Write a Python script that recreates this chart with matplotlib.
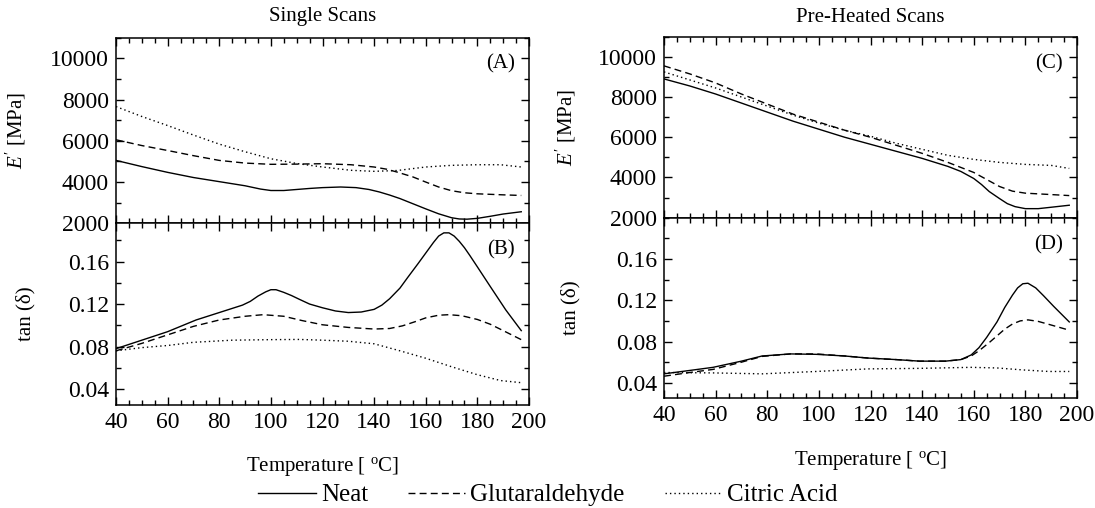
import matplotlib
matplotlib.use("Agg")
import matplotlib.pyplot as plt
from matplotlib.ticker import MultipleLocator
from matplotlib.lines import Line2D

plt.rcParams['font.family'] = ['Liberation Serif', 'DejaVu Serif']
plt.rcParams['mathtext.fontset'] = 'custom'
plt.rcParams['mathtext.rm'] = 'Liberation Serif'
plt.rcParams['mathtext.it'] = 'Liberation Serif:italic'

# ---------------- data ----------------
series_names = ["Neat", "Glutaraldehyde", "Citric Acid"]

# Panel A: single scans, storage modulus E' [MPa]
a_neat_t = [40, 50, 60, 70, 80, 90, 96, 100, 105, 110, 115, 120, 127, 133, 138, 142, 146, 150, 155, 160, 165, 170, 173, 176, 180, 185, 190, 197]
a_neat_v = [5050, 4750, 4470, 4220, 4020, 3820, 3660, 3590, 3590, 3640, 3690, 3730, 3760, 3730, 3640, 3520, 3370, 3200, 2950, 2700, 2460, 2270, 2210, 2200, 2240, 2340, 2450, 2560]
a_glut_t = [40, 50, 60, 70, 80, 90, 100, 110, 120, 131, 140, 145, 149, 155, 160, 165, 170, 175, 180, 190, 197]
a_glut_v = [6050, 5770, 5530, 5280, 5050, 4920, 4860, 4870, 4890, 4840, 4730, 4620, 4480, 4250, 4000, 3760, 3580, 3480, 3430, 3380, 3350]
a_citr_t = [40, 50, 60, 70, 80, 90, 100, 110, 120, 131, 140, 149, 160, 170, 180, 189, 197]
a_citr_v = [7660, 7180, 6740, 6280, 5840, 5470, 5130, 4900, 4730, 4570, 4520, 4560, 4730, 4810, 4840, 4840, 4730]

# Panel B: single scans, tan(delta)
b_neat_t = [40, 50, 60, 71, 80, 89, 92, 95, 98, 100, 102, 105, 108, 111, 115, 120, 125, 130, 135, 140, 143, 146, 150, 153, 157, 160, 163, 165, 167, 169, 171, 173, 175, 177, 180, 185, 191, 197]
b_neat_v = [0.078, 0.086, 0.094, 0.105, 0.112, 0.119, 0.1225, 0.1275, 0.1315, 0.1335, 0.1335, 0.131, 0.128, 0.1245, 0.120, 0.1165, 0.1135, 0.112, 0.1125, 0.115, 0.119, 0.125, 0.135, 0.145, 0.158, 0.168, 0.178, 0.184, 0.187, 0.187, 0.184, 0.179, 0.173, 0.166, 0.155, 0.1365, 0.1145, 0.095]
b_glut_t = [40, 50, 60, 70, 80, 90, 97, 105, 112, 120, 130, 140, 146, 151, 156, 160, 165, 169, 174, 180, 185, 190, 197]
b_glut_v = [0.076, 0.083, 0.091, 0.099, 0.105, 0.1085, 0.110, 0.1085, 0.1045, 0.1005, 0.098, 0.0965, 0.097, 0.0995, 0.1035, 0.107, 0.1095, 0.110, 0.109, 0.1055, 0.101, 0.095, 0.0865]
b_citr_t = [40, 50, 60, 70, 85, 100, 111, 120, 130, 140, 150, 160, 170, 180, 189, 197]
b_citr_v = [0.076, 0.079, 0.081, 0.084, 0.086, 0.0865, 0.0867, 0.086, 0.085, 0.0826, 0.076, 0.069, 0.061, 0.0535, 0.048, 0.046]

# Panel C: pre-heated scans, storage modulus E' [MPa]
c_neat_t = [40, 50, 60, 70, 80, 90, 100, 110, 120, 130, 140, 150, 155, 160, 163, 166, 170, 173, 176, 180, 185, 190, 197]
c_neat_v = [8900, 8550, 8150, 7700, 7250, 6800, 6400, 6000, 5650, 5300, 4950, 4550, 4300, 3950, 3650, 3300, 2950, 2700, 2550, 2450, 2450, 2520, 2620]
c_glut_t = [40, 50, 60, 70, 80, 90, 100, 110, 120, 130, 140, 150, 160, 165, 170, 175, 180, 190, 197]
c_glut_v = [9550, 9150, 8700, 8150, 7650, 7150, 6750, 6350, 6000, 5600, 5200, 4750, 4250, 3900, 3550, 3320, 3220, 3150, 3100]
c_citr_t = [40, 50, 60, 70, 80, 90, 100, 110, 120, 130, 140, 150, 160, 170, 180, 190, 197]
c_citr_v = [9250, 8850, 8450, 8000, 7550, 7100, 6700, 6350, 6050, 5700, 5400, 5100, 4900, 4750, 4650, 4600, 4450]

# Panel D: pre-heated scans, tan(delta)
d_neat_t = [40, 50, 59, 70, 78, 89, 99, 110, 119, 130, 139, 149, 155, 159, 162, 165, 169, 172, 175, 177, 179, 181, 184, 187, 191, 197]
d_neat_v = [0.0487, 0.052, 0.055, 0.061, 0.066, 0.068, 0.0676, 0.066, 0.064, 0.0625, 0.061, 0.061, 0.0625, 0.067, 0.074, 0.084, 0.099, 0.113, 0.125, 0.132, 0.136, 0.1365, 0.132, 0.1245, 0.114, 0.099]
d_glut_t = [40, 50, 59, 70, 78, 89, 99, 110, 119, 130, 139, 149, 155, 159, 162, 166, 169, 172, 175, 178, 181, 185, 190, 197]
d_glut_v = [0.0464, 0.050, 0.053, 0.060, 0.0656, 0.068, 0.068, 0.066, 0.064, 0.0625, 0.061, 0.061, 0.0625, 0.066, 0.071, 0.079, 0.0855, 0.092, 0.097, 0.100, 0.101, 0.0995, 0.096, 0.091]
d_citr_t = [40, 59, 78, 99, 119, 139, 159, 169, 179, 189, 197]
d_citr_v = [0.050, 0.0496, 0.0487, 0.051, 0.0535, 0.054, 0.055, 0.0544, 0.0525, 0.051, 0.051]

titles = ["Single Scans", "Pre-Heated Scans"]
panel_labels = ["(A)", "(B)", "(C)", "(D)"]
xticks = [40, 60, 80, 100, 120, 140, 160, 180, 200]
e_ticks = [2000, 4000, 6000, 8000, 10000]
tan_ticks = [0.04, 0.08, 0.12, 0.16]

# ---------------- figure ----------------
W, H = 1095, 508
fig = plt.figure(figsize=(W / 100, H / 100), dpi=100)

def px_axes(x0, x1, ytop, ybot):
    return fig.add_axes([x0 / W, 1 - ybot / H, (x1 - x0) / W, (ybot - ytop) / H])

axA = px_axes(116, 529, 37.7, 223.3)
axB = px_axes(116, 529, 223.3, 405)
axC = px_axes(664, 1077, 36.7, 217.7)
axD = px_axes(664, 1077, 217.7, 398.3)

styles = [dict(ls='-'), dict(ls=(0, (5, 3))), dict(ls=(0, (1, 2.2)))]
lw = 1.0

def draw(ax, data):
    for (t, v), st in zip(data, styles):
        ax.plot(t, v, color='black', lw=lw, **st)

draw(axA, [(a_neat_t, a_neat_v), (a_glut_t, a_glut_v), (a_citr_t, a_citr_v)])
draw(axB, [(b_neat_t, b_neat_v), (b_glut_t, b_glut_v), (b_citr_t, b_citr_v)])
draw(axC, [(c_neat_t, c_neat_v), (c_glut_t, c_glut_v), (c_citr_t, c_citr_v)])
draw(axD, [(d_neat_t, d_neat_v), (d_glut_t, d_glut_v), (d_citr_t, d_citr_v)])

tick_fs = 17
for ax in [axA, axB, axC, axD]:
    ax.set_xlim(40, 200)
    ax.set_xticks(xticks)
    ax.xaxis.set_minor_locator(MultipleLocator(5))
    ax.tick_params(which='both', direction='in', top=True, right=True, width=1.0, labelsize=tick_fs, pad=5)
    ax.tick_params(which='major', length=6)
    ax.tick_params(which='minor', length=3.5)
    for s in ax.spines.values():
        s.set_linewidth(1.1)

for ax in [axA, axC]:
    ax.set_ylim(2000, 11000)
    ax.set_yticks(e_ticks)
    ax.yaxis.set_minor_locator(MultipleLocator(1000))
    ax.tick_params(labelbottom=False)
    ax.set_ylabel(r"$E'$ [MPa]", fontsize=15)

axB.set_ylim(0.025, 0.196)
axD.set_ylim(0.025, 0.200)
for ax in [axB, axD]:
    ax.set_yticks(tan_ticks)
    ax.set_yticklabels([f"{t:.2f}" for t in tan_ticks])
    ax.yaxis.set_minor_locator(MultipleLocator(0.02))
    ax.set_ylabel("tan (δ)", fontsize=15)

axA.yaxis.set_label_coords(-0.213, 0.5)
axB.yaxis.set_label_coords(-0.196, 0.5)
axC.yaxis.set_label_coords(-0.208, 0.5)
axD.yaxis.set_label_coords(-0.203, 0.5)

for ax, lab, (xa, ya) in zip([axA, axB, axC, axD], panel_labels,
                             [(0.966, 0.858), (0.966, 0.853), (0.966, 0.85), (0.966, 0.849)]):
    ax.text(xa, ya, lab, transform=ax.transAxes, ha='right', va='center', fontsize=15)

fig.text(322.5 / W, 1 - 17 / H, titles[0], ha='center', va='center', fontsize=15)
fig.text(870.5 / W, 1 - 17 / H, titles[1], ha='center', va='center', fontsize=15)
fig.text(322.5 / W, 1 - 466 / H, r"Temperature [ $^{\mathrm{o}}$C]", ha='center', va='center', fontsize=15)
fig.text(870.5 / W, 1 - 460 / H, r"Temperature [ $^{\mathrm{o}}$C]", ha='center', va='center', fontsize=15)

handles = [Line2D([], [], color='black', lw=lw, **st) for st in styles]
fig.legend(handles, series_names, loc='center', bbox_to_anchor=(548 / W, 1 - 495 / H), ncol=3,
           frameon=False, fontsize=18, handlelength=2.3, handletextpad=0.2, columnspacing=1.6,
           borderpad=0.0)

fig.savefig("out.png", dpi=100)
